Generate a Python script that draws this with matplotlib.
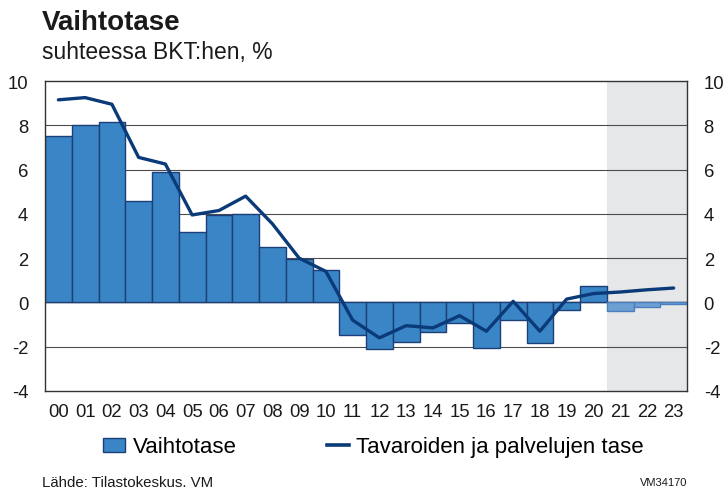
import matplotlib

matplotlib.use("Agg")
import matplotlib.pyplot as plt
from matplotlib.lines import Line2D
from matplotlib.patches import Patch

plt.rcParams["font.family"] = ["Liberation Sans", "DejaVu Sans"]
plt.rcParams["axes.unicode_minus"] = False

# Data
years = ["00", "01", "02", "03", "04", "05", "06", "07", "08", "09", "10", "11",
         "12", "13", "14", "15", "16", "17", "18", "19", "20", "21", "22", "23"]
current_account = [7.5, 8.0, 8.15, 4.6, 5.9, 3.2, 3.95, 4.0, 2.5, 1.95, 1.45, -1.45,
                   -2.1, -1.8, -1.35, -0.95, -2.05, -0.8, -1.85, -0.35, 0.75,
                   -0.4, -0.2, -0.05]
goods_services = [9.15, 9.25, 8.95, 6.55, 6.25, 3.95, 4.15, 4.8, 3.55, 2.0, 1.4, -0.8,
                  -1.6, -1.05, -1.15, -0.6, -1.3, 0.05, -1.3, 0.15, 0.4,
                  0.47, 0.57, 0.65]
forecast_start = 21

BAR_COLOR = "#3a85c6"
BAR_EDGE = "#1c3f78"
FC_COLOR = "#6d9fd2"
FC_EDGE = "#4a7fbf"
LINE_COLOR = "#0b3a78"

fig = plt.figure(figsize=(7.25, 4.89), dpi=100)
ax = fig.add_axes([0.0621, 0.1984, 0.8855, 0.6339])

x = list(range(len(years)))
ax.axvspan(forecast_start - 0.5, len(years) - 0.5, color="#e6e7e8", zorder=0, lw=0)

for yv in [8, 6, 4, 2, -2]:
    ax.axhline(yv, color="#4d4d4d", lw=0.8, zorder=1)
ax.axhline(0, color="#333333", lw=1.0, zorder=1)

hist_x = x[:forecast_start]
fc_x = x[forecast_start:]
ax.bar(hist_x, current_account[:forecast_start], width=1.0, color=BAR_COLOR,
       edgecolor=BAR_EDGE, linewidth=1.0, zorder=2)
ax.bar(fc_x, current_account[forecast_start:], width=1.0, color=FC_COLOR,
       edgecolor=FC_EDGE, linewidth=1.0, zorder=2)
ax.plot(x, goods_services, color=LINE_COLOR, lw=2.4, zorder=3,
        solid_capstyle="round", solid_joinstyle="round")

ax.set_xlim(-0.5, len(years) - 0.5)
ax.set_ylim(-4, 10)
ax.set_yticks(range(-4, 11, 2))
ax.set_xticks(x)
ax.set_xticklabels(years)
ax.tick_params(axis="both", length=0, labelsize=13.3, colors="#1a1a1a")
ax.tick_params(axis="y", labelright=True, pad=12)
ax.tick_params(axis="x", pad=9)
for spine in ax.spines.values():
    spine.set_color("#333333")
    spine.set_linewidth(1.0)

fig.text(0.058, 0.953, "Vaihtotase", fontsize=20, fontweight="bold",
         color="#1a1a1a", va="center")
fig.text(0.058, 0.893, "suhteessa BKT:hen, %", fontsize=16.5,
         color="#1a1a1a", va="center")

handles = [Patch(facecolor=BAR_COLOR, edgecolor=BAR_EDGE, lw=1.0),
           Line2D([], [], color=LINE_COLOR, lw=2.6)]
fig.legend(handles, ["Vaihtotase", "Tavaroiden ja palvelujen tase"],
           loc="center", bbox_to_anchor=(0.515, 0.084), ncol=2, frameon=False,
           fontsize=16, handlelength=1.0, handleheight=0.6, handletextpad=0.35,
           columnspacing=4.05)

fig.text(0.058, 0.0125, "Lähde: Tilastokeskus. VM", fontsize=10.8,
         color="#1a1a1a", va="center")
fig.text(0.948, 0.0125, "VM34170", fontsize=8, color="#1a1a1a",
         va="center", ha="right")

fig.savefig("out.png", dpi=100)
